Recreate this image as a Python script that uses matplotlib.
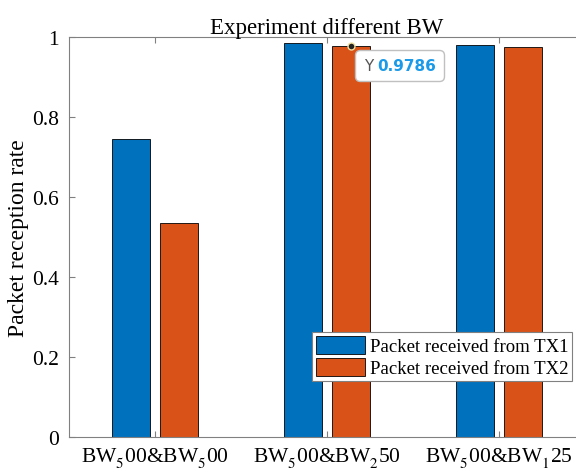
import matplotlib.pyplot as plt
import numpy as np
from matplotlib.offsetbox import TextArea, HPacker, AnnotationBbox

plt.rcParams['font.family'] = ['Liberation Serif', 'DejaVu Serif']
plt.rcParams['mathtext.fontset'] = 'stix'

# data
groups = [r'BW$^{\ }_{5}$00&BW$^{\ }_{5}$00', r'BW$^{\ }_{5}$00&BW$^{\ }_{2}$50', r'BW$^{\ }_{5}$00&BW$^{\ }_{1}$25']
tx1 = [0.744, 0.985, 0.980]
tx2 = [0.535, 0.9786, 0.974]
series_names = ['Packet received from TX1', 'Packet received from TX2']
tip_value = 0.9786

fig = plt.figure(figsize=(5.76, 4.77), dpi=100)
# axes runs past the right edge, like the cropped original
ax = fig.add_axes([69/576, 39/477, 516/576, 400/477])

ind = np.arange(1, len(groups) + 1)
w = 0.22
off = 0.14
ax.bar(ind - off, tx1, w, color='#0072BD', edgecolor='black', linewidth=0.6, label=series_names[0])
ax.bar(ind + off, tx2, w, color='#D95319', edgecolor='black', linewidth=0.6, label=series_names[1])

ax.set_xlim(0.5, 3.5)
ax.set_ylim(0, 1)
ax.set_xticks(ind)
ax.set_xticklabels(groups, fontsize=15.5)
ax.set_yticks([0, 0.2, 0.4, 0.6, 0.8, 1])
ax.set_yticklabels(['0', '0.2', '0.4', '0.6', '0.8', '1'], fontsize=15.5)
ax.tick_params(direction='in', top=True, right=True, length=4, color='#808080', pad=6)
ax.tick_params(axis='y', pad=7)
for s in ax.spines.values():
    s.set_color('#808080')
ax.set_ylabel('Packet reception rate', fontsize=17, labelpad=2)
ax.set_title('Experiment different BW', fontsize=16.5, pad=3)

leg = ax.legend(loc='upper left', bbox_to_anchor=(312/576, 1 - 333/477), bbox_transform=fig.transFigure,
                fontsize=13.5, fancybox=False, edgecolor='#808080', framealpha=1,
                handlelength=2.6, handleheight=1.15, handletextpad=0.3, borderaxespad=0,
                borderpad=0.2, labelspacing=0.12)
leg.get_frame().set_linewidth(0.8)

# data tip
ax.plot(2 + off, tip_value, 'o', color='#222222', markersize=5, markeredgecolor='#f0e0a0', zorder=5)
tipbox = HPacker(children=[TextArea('Y', textprops=dict(color='#555555', family='DejaVu Sans', fontsize=11)),
                           TextArea('%.4f' % tip_value, textprops=dict(color='#1a9ae8', family='DejaVu Sans',
                                                                       fontsize=11, fontweight='bold'))],
                 sep=3, pad=0)
ab = AnnotationBbox(tipbox, (2 + off, tip_value), xybox=(9, -9), xycoords='data', boxcoords='offset points',
                    box_alignment=(0, 1), frameon=True, fontsize=12,
                    bboxprops=dict(boxstyle='round,pad=0.5,rounding_size=0.3', facecolor='white',
                                   edgecolor='#c0c0c0', linewidth=1.0))
ab.set_zorder(6)
ax.add_artist(ab)

fig.savefig('out.png', dpi=100)
